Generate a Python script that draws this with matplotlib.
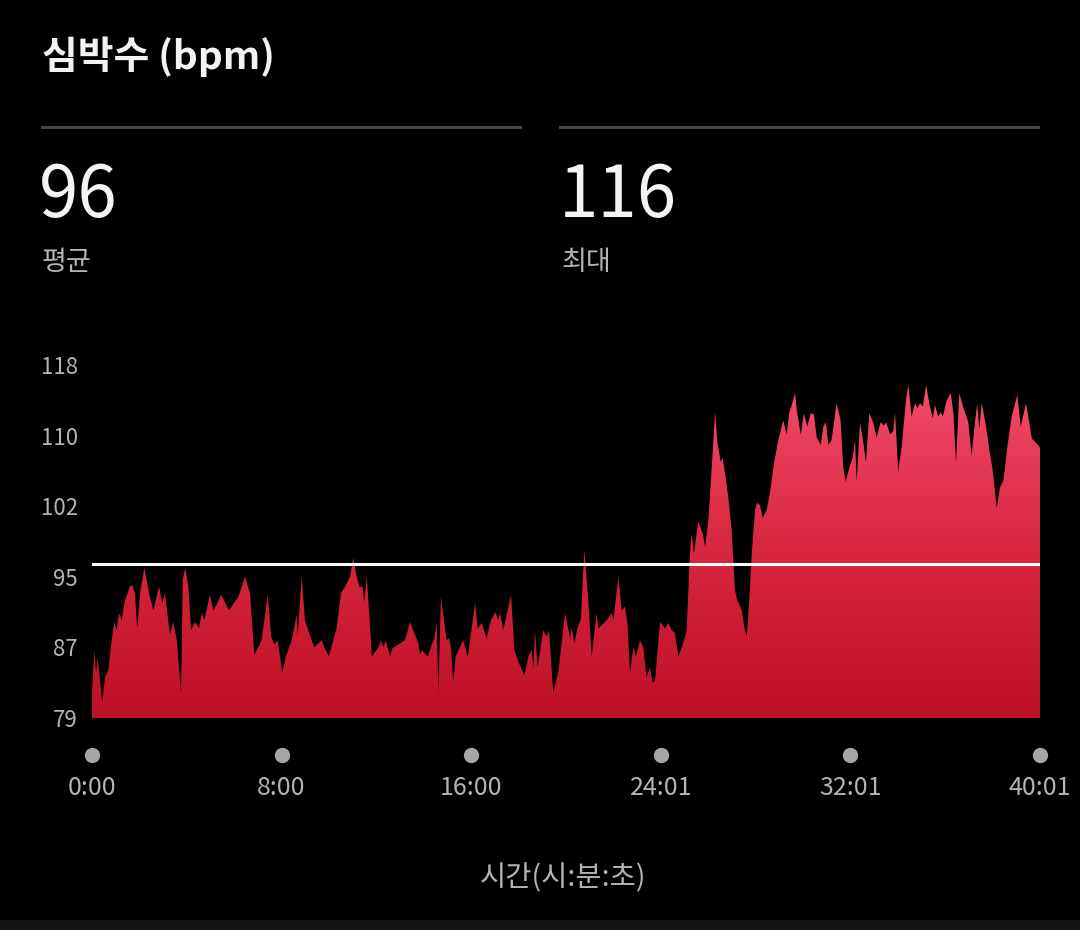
import numpy as np
import matplotlib
matplotlib.use('Agg')
import matplotlib.pyplot as plt
from matplotlib.colors import LinearSegmentedColormap
from matplotlib.transforms import blended_transform_factory

plt.rcParams['font.family'] = ['Noto Sans CJK KR', 'DejaVu Sans']

# elapsed time (minutes) and heart rate (bpm)
minutes = [
    0.00, 0.10, 0.17, 0.24, 0.34, 0.43, 0.55, 0.69, 0.83, 0.94, 1.04, 1.14, 1.25,
    1.39, 1.60, 1.70, 1.81, 1.91, 2.03, 2.21, 2.31, 2.45, 2.59, 2.83, 2.97, 3.08,
    3.29, 3.43, 3.58, 3.76, 3.83, 3.93, 4.07, 4.18, 4.35, 4.52, 4.63, 4.74, 4.98,
    5.12, 5.26, 5.45, 5.78, 6.18, 6.46, 6.67, 6.85, 7.02,
    7.16, 7.42, 7.56, 7.70, 7.84, 8.03, 8.18, 8.43, 8.64, 8.68, 8.85, 8.99, 9.13,
    9.38, 9.70, 9.81, 10.00, 10.33, 10.51, 10.68, 10.89, 11.03, 11.17, 11.31, 11.41,
    11.49, 11.60, 11.73, 11.81, 12.09, 12.20, 12.30, 12.40, 12.58, 12.68, 13.21,
    13.42, 13.60, 13.77, 13.85, 13.92, 14.17, 14.34,
    14.45, 14.55, 14.62, 14.73, 14.87, 14.97, 15.07, 15.15, 15.25, 15.35, 15.67,
    15.86, 16.03, 16.17, 16.28, 16.45, 16.66, 16.84, 17.04, 17.15, 17.22, 17.36,
    17.69, 17.83, 18.00, 18.25, 18.42, 18.56, 18.63, 18.70, 18.81, 19.05, 19.19,
    19.29, 19.47, 19.68, 19.97, 20.18, 20.25, 20.36, 20.50, 20.64, 20.78, 20.95,
    21.09, 21.30, 21.37,
    21.73, 21.94, 22.01, 22.22, 22.36, 22.50, 22.60, 22.71, 22.85, 22.96, 23.13,
    23.27, 23.41, 23.55, 23.67, 23.77, 23.84, 23.98, 24.19, 24.33, 24.47, 24.61,
    24.75, 24.96, 25.10, 25.24, 25.31, 25.41, 25.59, 25.78, 25.88, 26.02, 26.12,
    26.23, 26.30, 26.40, 26.54, 26.62, 26.72, 26.86, 27.00, 27.14, 27.24, 27.43,
    27.56, 27.64, 27.75, 27.85, 27.99, 28.08, 28.20, 28.31,
    28.48, 28.62, 28.79, 28.97, 29.18, 29.32, 29.43, 29.54, 29.68, 29.75, 29.92,
    30.05, 30.19, 30.34, 30.48, 30.59, 30.76, 30.87, 30.98, 31.08, 31.22, 31.43,
    31.60, 31.71, 31.81, 31.97, 32.11, 32.21, 32.28, 32.42, 32.56, 32.67, 32.81,
    32.98, 33.12, 33.29, 33.43, 33.52, 33.69, 33.82, 33.90, 34.03, 34.18,
    34.35, 34.46, 34.60, 34.74, 34.84, 34.95, 35.07, 35.21, 35.34, 35.49, 35.58,
    35.72, 35.83, 35.91, 36.08, 36.25, 36.36, 36.47, 36.61, 36.78, 36.99, 37.13,
    37.27, 37.37, 37.45, 37.56, 37.74, 37.88, 38.02, 38.19, 38.33, 38.47, 38.64,
    38.82, 39.06, 39.20, 39.43, 39.67, 39.99, 40.02,
]
bpm = [
    81.8, 86.5, 84.0, 85.6, 83.2, 80.7, 83.5, 84.3, 87.6, 89.6, 88.7, 90.6, 89.8,
    92.0, 93.5, 93.7, 92.8, 88.9, 92.8, 95.6, 94.2, 92.3, 90.9, 93.5, 91.7, 92.8,
    88.2, 89.6, 87.6, 81.8, 94.2, 95.6, 93.5, 88.7, 89.6, 88.9, 90.6, 89.8, 92.6,
    90.9, 91.5, 92.6, 90.9, 92.4, 94.6, 92.8, 86.0, 86.8,
    87.6, 92.6, 88.0, 87.1, 87.6, 84.0, 85.8, 87.6, 90.4, 88.0, 94.6, 89.8, 88.7,
    86.8, 87.6, 86.8, 85.8, 89.0, 92.8, 93.5, 94.6, 96.7, 94.6, 93.4, 93.6,
    91.8, 94.6, 89.5, 85.8, 86.8, 87.6, 86.8, 87.6, 85.8, 86.7, 87.6,
    89.6, 88.4, 87.3, 86.0, 86.5, 85.8, 87.1,
    87.8, 89.5, 81.8, 92.4, 89.5, 87.6, 87.8, 86.8, 82.9, 85.8, 87.6,
    85.8, 89.0, 91.7, 88.9, 89.5, 87.8, 89.8, 90.7, 89.8, 90.6, 88.7,
    92.6, 86.5, 85.2, 83.7, 85.8, 86.5, 84.5, 88.7, 84.6, 88.7, 88.0,
    88.7, 81.8, 84.0, 90.6, 87.8, 89.0, 87.3, 89.0, 90.0, 97.6, 92.0,
    85.8, 90.6, 88.9,
    89.8, 90.6, 89.8, 94.6, 90.9, 91.3, 89.5, 84.0, 86.8, 85.8, 87.6,
    86.8, 83.5, 84.6, 82.9, 83.2, 85.4, 89.6, 88.9, 89.5, 88.7, 88.4,
    85.8, 87.3, 88.7, 97.2, 99.4, 97.2, 100.7, 99.4, 97.9, 100.9, 105.0,
    109.7, 112.8, 109.4, 107.3, 107.7, 106.1, 103.4, 99.8, 93.1, 92.0, 90.9,
    88.7, 88.0, 92.4, 97.2, 102.0, 102.8, 102.5, 101.1,
    102.0, 103.9, 107.2, 109.7, 111.9, 110.3, 112.7, 113.6, 114.9, 113.0, 110.3,
    112.7, 111.2, 112.7, 112.5, 110.0, 109.2, 111.2, 111.7, 109.2, 109.7, 113.8,
    111.9, 106.7, 105.1, 106.7, 107.8, 109.7, 105.1, 111.7, 109.4, 107.2, 112.7,
    111.6, 110.0, 111.7, 111.3, 111.7, 110.3, 110.7, 112.7, 106.2, 109.0,
    113.9, 115.8, 112.3, 113.8, 113.2, 113.8, 113.4, 115.8, 113.8, 112.1, 113.6,
    112.3, 112.8, 112.3, 114.1, 114.9, 112.7, 107.2, 114.9, 113.3, 111.7, 108.0,
    111.6, 113.8, 110.9, 113.8, 111.2, 108.6, 106.4, 102.2, 104.5, 105.2, 109.0,
    112.3, 114.7, 111.2, 113.8, 109.9, 109.0, 108.8,
]

avg_bpm = 96
max_bpm = 116
y_min, y_max = 79, 118
y_tick_labels = ['79', '87', '95', '102', '110', '118']
x_tick_seconds = [0, 480, 960, 1441, 1921, 2401]
x_tick_labels = ['0:00', '8:00', '16:00', '24:01', '32:01', '40:01']

W, H = 1080, 930
fig = plt.figure(figsize=(W / 100, H / 100), dpi=100, facecolor='black')

# chart area: x 92..1040 px, y 365..718 px
ax = fig.add_axes([92 / W, 1 - 718 / H, 948 / W, 353 / H])
ax.set_facecolor('black')
x_end = x_tick_seconds[-1] / 60
ax.set_xlim(0, x_end)
ax.set_ylim(y_min, y_max)
for s in ax.spines.values():
    s.set_visible(False)

x = np.array(minutes)
y = np.array(bpm)
poly = ax.fill_between(x, y_min, y, color='none', lw=0)
cmap = LinearSegmentedColormap.from_list('hr', ['#bd1126', '#d8263f', '#f34d6c'])
grad = np.linspace(0, 1, 256).reshape(-1, 1)
img = ax.imshow(grad, cmap=cmap, origin='lower', aspect='auto',
                extent=[0, x_end, y_min, 116.5], zorder=1)
img.set_clip_path(poly.get_paths()[0], transform=ax.transData)

ax.axhline(avg_bpm, color='white', lw=2.2, zorder=3)

ax.set_yticks(np.linspace(y_min, y_max, len(y_tick_labels)))
ax.set_yticklabels(y_tick_labels, color='#b4b4b4', fontsize=16)
ax.tick_params(axis='y', length=0, pad=10)
ax.set_xticks([])

tr = blended_transform_factory(ax.transData, ax.transAxes)
tx = [t / 60 for t in x_tick_seconds]
ax.plot(tx, [-0.105] * len(tx), 'o', color='#a6a6a6', markersize=10,
        transform=tr, clip_on=False)
for xv, lab in zip(tx, x_tick_labels):
    ax.text(xv, -0.198, lab, transform=tr, ha='center', va='center',
            color='#b4b4b4', fontsize=18)

# header
fig.text(42 / W, 1 - 57 / H, '심박수 (bpm)', color='#f2f2f2', fontsize=28,
         fontweight='bold', va='center', ha='left')
fig.add_artist(plt.Line2D([42 / W, 520 / W], [1 - 127 / H] * 2, color='#454545', lw=2.2))
fig.add_artist(plt.Line2D([560 / W, 1038 / W], [1 - 127 / H] * 2, color='#454545', lw=2.2))
fig.text(39 / W, 1 - 196 / H, str(avg_bpm), color='#f4f4f4', fontsize=51,
         va='center', ha='left')
fig.text(559 / W, 1 - 196 / H, str(max_bpm), color='#f4f4f4', fontsize=51,
         va='center', ha='left')
fig.text(42 / W, 1 - 263 / H, '평균', color='#b4b4b4', fontsize=19.5,
         va='center', ha='left')
fig.text(562 / W, 1 - 263 / H, '최대', color='#b4b4b4', fontsize=19.5,
         va='center', ha='left')

fig.text(563 / W, 1 - 878 / H, '시간(시:분:초)', color='#b4b4b4', fontsize=20.5,
         va='center', ha='center')

# bottom strip
fig.add_artist(plt.Rectangle((0, 0), 1, 10 / H, transform=fig.transFigure,
                             color='#141414', lw=0))

fig.savefig('out.png', dpi=100, facecolor='black')
